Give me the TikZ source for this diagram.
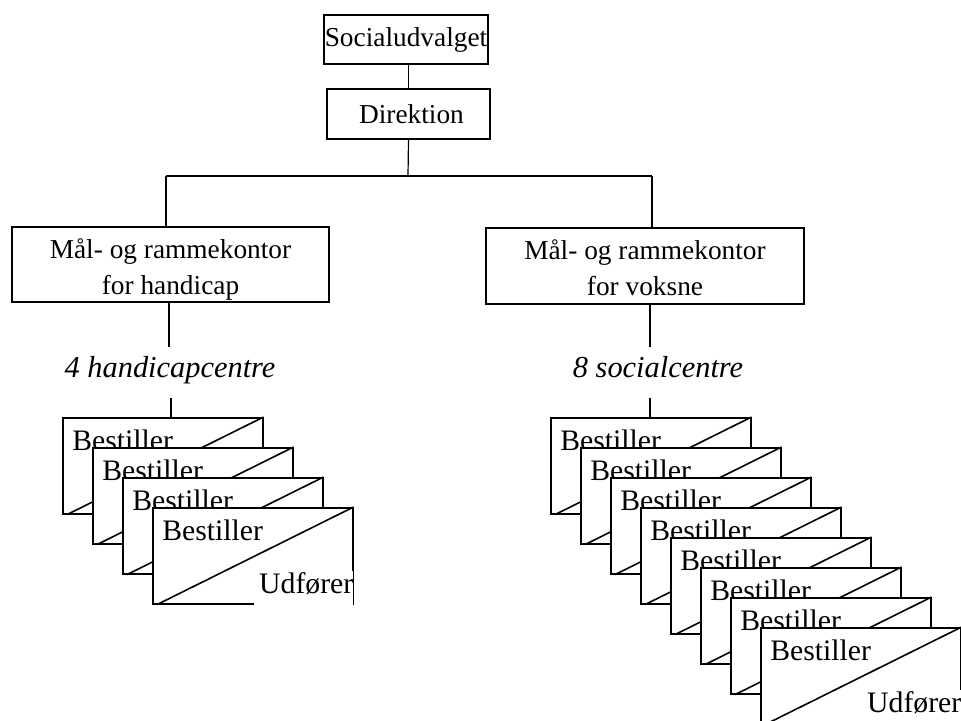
\documentclass[tikz,border=0pt]{standalone}
\usepackage{fontspec}
\setmainfont{Liberation Serif}
\newlength\upx
\setlength\upx{0.75pt}
\begin{document}
\begin{tikzpicture}[x=0.75pt,y=-0.75pt,
  orgbox/.style={draw, line width=1.6\upx, inner sep=0pt, align=center,
    font=\fontsize{20.5}{27}\selectfont},
  card/.style={draw, fill=white, line width=1.6\upx, minimum width=200\upx,
    minimum height=96\upx, anchor=north west, inner sep=0pt},
  cardtext/.style={font=\fontsize{22.3}{26}\selectfont, inner sep=0pt},
  udf/.style={cardtext, anchor=base east, fill=white, inner xsep=5\upx,
    inner ysep=1\upx, text depth=12\upx},
  centre/.style={font=\fontsize{22.8}{26}\selectfont\itshape, inner sep=0pt, anchor=base},
  conn/.style={line width=1.2\upx},
  diag/.style={line width=1.6\upx}]
\useasboundingbox (0,0) rectangle (961,721);

% top boxes
\node[orgbox, minimum width=164\upx, minimum height=49\upx] (soc) at (406,39.5) {Socialudvalget};
\node[orgbox, minimum width=163\upx, minimum height=50\upx] (dir) at (408.5,114) {\hspace*{6\upx}Direktion};
\node[orgbox, minimum width=317\upx, minimum height=75\upx] (lb) at (170.5,264.5) {\rule{0pt}{30\upx}Mål- og rammekontor\\for handicap};
\node[orgbox, minimum width=318\upx, minimum height=76\upx] (rb) at (645,266) {\rule{0pt}{24\upx}Mål- og rammekontor\\for voksne};

\node[centre] (hc) at (170,377) {4 handicapcentre};
\node[centre] (sc) at (658,377) {8 socialcentre};

% connectors
\coordinate (j) at (408,176);
\coordinate (jl) at (166,176);
\coordinate (jr) at (652,176);
\draw[conn] (dir.north) -- (dir.north |- soc.south);
\draw[conn] (dir.south) -- (j);
\draw[conn] (jl) -- (jr);
\draw[conn] (jl) -- (jl |- lb.north);
\draw[conn] (jr) -- (jr |- rb.north);
\coordinate (lt) at (169,347);
\coordinate (rt) at (650,347);
\draw[conn] (lt |- lb.south) -- (lt);
\draw[conn] (rt |- rb.south) -- (rt);

% left stack
\foreach \i in {1,...,4}{
  \node[card] (L\i) at ({62+30*(\i-1)},{417+30*(\i-1)}) {};
  \draw[diag] ([xshift=5\upx]L\i.south west) -- (L\i.north east);
  \node[cardtext, anchor=base west] (Lb\i) at ([shift={(10,33)}]L\i.north west) {Bestiller};
}
\node[udf] (Lu) at ([shift={(5,86)}]L4.north east) {Udfører};
\draw[diag] (L4.north east) -- (L4.south east);

% right stack
\foreach \i in {1,...,8}{
  \node[card] (R\i) at ({550+30*(\i-1)},{417+30*(\i-1)}) {};
  \draw[diag] ([xshift=5\upx]R\i.south west) -- (R\i.north east);
  \node[cardtext, anchor=base west] (Rb\i) at ([shift={(10,33)}]R\i.north west) {Bestiller};
}
\node[udf] (Ru) at ([shift={(5,85)}]R8.north east) {Udfører};
\draw[diag] (R8.north east) -- (R8.south east);

\coordinate (lbt) at (171,398);
\coordinate (rbt) at (650,398);
\draw[conn] (lbt) -- (lbt |- L1.north);
\draw[conn] (rbt) -- (rbt |- R1.north);
\end{tikzpicture}
\end{document}
